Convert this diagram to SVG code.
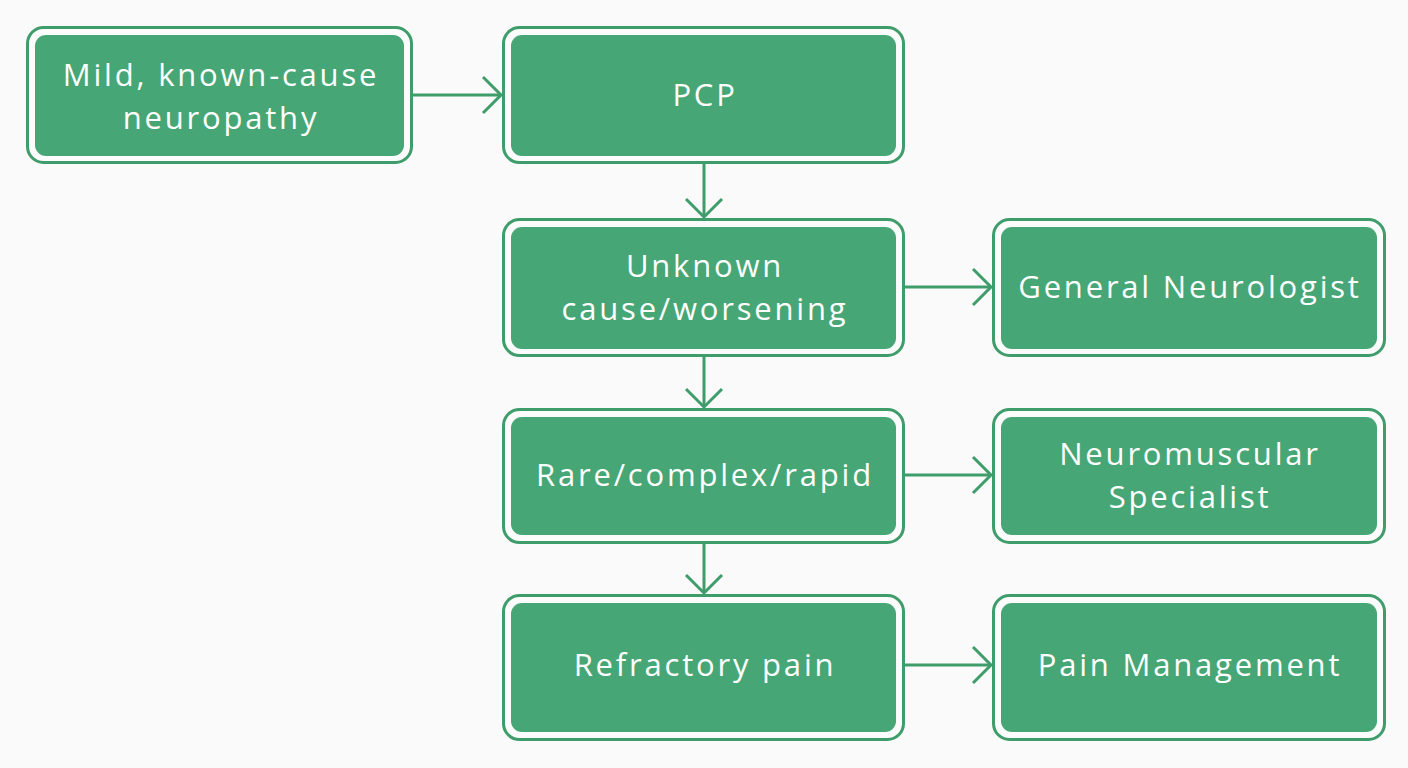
<svg xmlns="http://www.w3.org/2000/svg" width="1408" height="768" viewBox="0 0 1408 768">
<style>
.outer{fill:#fbfcfb;stroke:#3f9c6b;stroke-width:3}
.inner{fill:#47a675}
.t{font-family:"Open Sans",Lato,sans-serif;font-size:31px;letter-spacing:2.8px;fill:#ffffff;text-anchor:middle;dominant-baseline:central}
.c{stroke:#3f9c6b;stroke-width:3;fill:none}
</style>
<defs>
<marker id="ah" markerWidth="40" markerHeight="40" refX="20" refY="20" orient="auto" markerUnits="userSpaceOnUse">
<path d="M2,2 L20,20 L2,38" fill="none" stroke="#3f9c6b" stroke-width="3"/>
</marker>
</defs>
<rect width="1408" height="768" fill="#f9faf9"/>
<g id="connectors">
<line class="c" x1="412" y1="95" x2="501" y2="95" marker-end="url(#ah)"/>
<line class="c" x1="704" y1="163" x2="704" y2="217" marker-end="url(#ah)"/>
<line class="c" x1="704" y1="356" x2="704" y2="407" marker-end="url(#ah)"/>
<line class="c" x1="704" y1="543" x2="704" y2="593" marker-end="url(#ah)"/>
<line class="c" x1="904" y1="287" x2="991" y2="287" marker-end="url(#ah)"/>
<line class="c" x1="904" y1="475" x2="991" y2="475" marker-end="url(#ah)"/>
<line class="c" x1="904" y1="665" x2="991" y2="665" marker-end="url(#ah)"/>
</g>
<g id="n1">
<rect class="outer" x="27.5" y="27.5" width="384" height="135" rx="16"/>
<rect class="inner" x="35" y="35" width="369" height="121" rx="11"/>
<text class="t" x="221" y="73.5">Mild, known-cause</text>
<text class="t" x="221" y="116.5">neuropathy</text>
</g>
<g id="n2">
<rect class="outer" x="503.5" y="27.5" width="400" height="135" rx="16"/>
<rect class="inner" x="511" y="35" width="385" height="121" rx="11"/>
<text class="t" x="705" y="94">PCP</text>
</g>
<g id="n3">
<rect class="outer" x="503.5" y="219.5" width="400" height="136" rx="16"/>
<rect class="inner" x="511" y="227" width="385" height="122" rx="11"/>
<text class="t" x="705" y="264.5">Unknown</text>
<text class="t" x="705" y="307.5">cause/worsening</text>
</g>
<g id="n4">
<rect class="outer" x="993.5" y="219.5" width="391" height="136" rx="16"/>
<rect class="inner" x="1001" y="227" width="376" height="122" rx="11"/>
<text class="t" x="1190" y="286">General Neurologist</text>
</g>
<g id="n5">
<rect class="outer" x="503.5" y="409.5" width="400" height="133" rx="16"/>
<rect class="inner" x="511" y="417" width="385" height="118" rx="11"/>
<text class="t" x="705" y="474">Rare/complex/rapid</text>
</g>
<g id="n6">
<rect class="outer" x="993.5" y="409.5" width="391" height="133" rx="16"/>
<rect class="inner" x="1001" y="417" width="376" height="118" rx="11"/>
<text class="t" x="1190" y="453">Neuromuscular</text>
<text class="t" x="1190" y="496">Specialist</text>
</g>
<g id="n7">
<rect class="outer" x="503.5" y="595.5" width="400" height="144" rx="16"/>
<rect class="inner" x="511" y="603" width="385" height="129" rx="11"/>
<text class="t" x="705" y="664">Refractory pain</text>
</g>
<g id="n8">
<rect class="outer" x="993.5" y="595.5" width="391" height="144" rx="16"/>
<rect class="inner" x="1001" y="603" width="376" height="129" rx="11"/>
<text class="t" x="1190" y="664">Pain Management</text>
</g>
</svg>
